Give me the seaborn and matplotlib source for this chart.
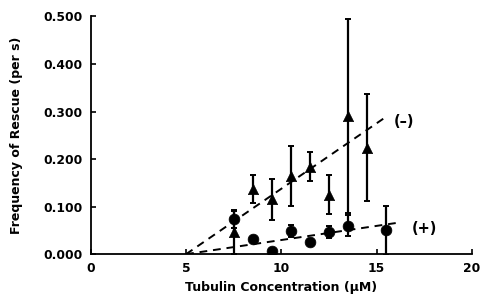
import matplotlib
matplotlib.use("Agg")
import matplotlib.pyplot as plt
import seaborn as sns
import pandas as pd

# Data
conc_minus = [7.5, 8.5, 9.5, 10.5, 11.5, 12.5, 13.5, 14.5]
rescue_minus = [0.046, 0.137, 0.115, 0.164, 0.184, 0.125, 0.290, 0.224]
err_minus = [0.045, 0.030, 0.044, 0.063, 0.031, 0.041, 0.204, 0.112]

conc_plus = [7.5, 8.5, 9.5, 10.5, 11.5, 12.5, 13.5, 15.5]
rescue_plus = [0.074, 0.031, 0.006, 0.049, 0.025, 0.047, 0.060, 0.050]
err_plus = [0.018, 0.005, 0.003, 0.012, 0.004, 0.012, 0.022, 0.052]

fit_minus_x = [5.0, 15.5]
fit_minus_y = [0.0, 0.289]
fit_plus_x = [5.0, 16.1]
fit_plus_y = [0.0, 0.066]

label_minus = "(\u2013)"
label_plus = "(+)"

x_ticks = [0, 5, 10, 15, 20]
y_ticks = [0.0, 0.1, 0.2, 0.3, 0.4, 0.5]

sns.set_style("ticks")
plt.rcParams["font.family"] = ["DejaVu Sans"]
plt.rcParams["text.color"] = "black"
plt.rcParams["axes.labelcolor"] = "black"
plt.rcParams["xtick.color"] = "black"
plt.rcParams["ytick.color"] = "black"

fig = plt.figure(figsize=(4.83, 2.99), dpi=100)
ax = fig.add_axes([0.188, 0.150, 0.789, 0.795])

df_m = pd.DataFrame({"x": conc_minus, "y": rescue_minus})
df_p = pd.DataFrame({"x": conc_plus, "y": rescue_plus})

ax.errorbar(conc_minus, rescue_minus, yerr=err_minus, fmt="none",
            ecolor="black", elinewidth=1.6, capsize=2.2, capthick=1.4, zorder=2)
ax.errorbar(conc_plus, rescue_plus, yerr=err_plus, fmt="none",
            ecolor="black", elinewidth=1.6, capsize=2.2, capthick=1.4, zorder=2)

sns.lineplot(x=fit_minus_x, y=fit_minus_y, ax=ax, color="black",
             linestyle=(0, (4, 3)), linewidth=1.4, zorder=1)
sns.lineplot(x=fit_plus_x, y=fit_plus_y, ax=ax, color="black",
             linestyle=(0, (4, 3)), linewidth=1.4, zorder=1)

sns.scatterplot(data=df_m, x="x", y="y", ax=ax, marker="^", s=55,
                color="black", edgecolor="black", linewidth=0.5, zorder=3)
sns.scatterplot(data=df_p, x="x", y="y", ax=ax, marker="o", s=60,
                color="black", edgecolor="black", linewidth=0.5, zorder=3)

ax.text(16.45, 0.279, label_minus, fontsize=10.5, fontweight="bold",
        color="black", ha="center", va="center")
ax.text(17.5, 0.054, label_plus, fontsize=10.5, fontweight="bold",
        color="black", ha="center", va="center")

ax.set_xlim(0, 20)
ax.set_ylim(0, 0.5)
ax.set_xticks(x_ticks)
ax.set_yticks(y_ticks)
ax.set_xticklabels([str(t) for t in x_ticks])
ax.set_yticklabels([f"{t:.3f}" for t in y_ticks])

for s in ["top", "right"]:
    ax.spines[s].set_visible(False)
for s in ["left", "bottom"]:
    ax.spines[s].set_linewidth(1.3)
    ax.spines[s].set_color("black")

ax.tick_params(direction="in", length=3.5, width=1.2, colors="black",
               labelcolor="black", labelsize=8.8, pad=6)
for lab in ax.get_xticklabels() + ax.get_yticklabels():
    lab.set_fontweight("bold")

ax.set_xlabel("Tubulin Concentration (\u03bcM)", fontsize=9, fontweight="bold",
              color="black", labelpad=4)
ax.set_ylabel("Frequency of Rescue (per s)", fontsize=9, fontweight="bold",
              color="black")
ax.yaxis.set_label_coords(-0.178, 0.5)

fig.savefig("out.png", dpi=100)
